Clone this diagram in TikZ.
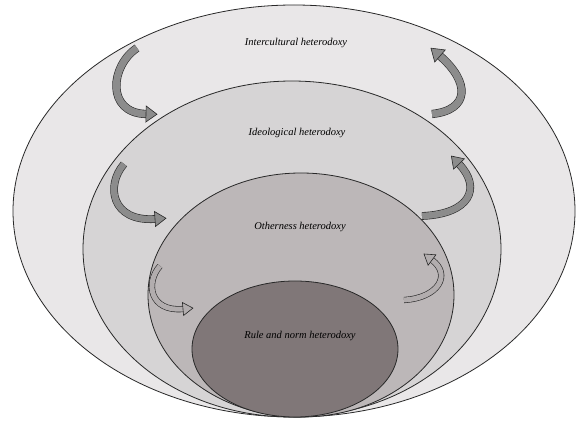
\documentclass[tikz,border=0pt]{standalone}
\usepackage{fontspec}
\setmainfont{Liberation Serif}
\usetikzlibrary{calc}
\definecolor{ringA}{RGB}{233,231,232}
\definecolor{ringB}{RGB}{214,212,213}
\definecolor{ringC}{RGB}{188,183,184}
\definecolor{ringD}{RGB}{128,119,120}
\definecolor{linec}{RGB}{40,40,40}
\definecolor{arrdark}{RGB}{140,140,140}
\definecolor{arrlight}{RGB}{178,173,174}
\tikzset{
  ring/.style={draw=linec, line width=0.8pt},
  lbl/.style={font=\fontsize{10.5}{12}\selectfont\itshape, inner sep=0pt}
}
\newcommand{\blockarr}[8]{%
  \draw[line width=0.6pt, draw=linec, double=#5, double distance=#6] (#1) .. controls (#2) and (#3) .. (#4);
  \draw[line width=0.6pt, draw=linec, fill=#5, line join=miter]
    ($(#4)!#7!90:(#3)$) -- ($(#4)!-#8!(#3)$) -- ($(#4)!#7!-90:(#3)$) -- cycle;
}
\begin{document}
\begin{tikzpicture}[x=1pt, y=-1pt]
\useasboundingbox (0,0) rectangle (582,422);
\fill[white] (0,0) rectangle (582,422);
\draw[ring, fill=ringA] (294,211) ellipse [x radius=281pt, y radius=206pt];
\draw[ring, fill=ringB] (292,249) ellipse [x radius=209pt, y radius=168pt];
\draw[ring, fill=ringC] (301,295) ellipse [x radius=153pt, y radius=122pt];
\draw[ring, fill=ringD] (295,349) ellipse [x radius=103pt, y radius=68pt];

\node[lbl] (t1) at (296,43) {Intercultural heterodoxy};
\node[lbl] (t2) at (297,133) {Ideological heterodoxy};
\node[lbl] (t3) at (300,227) {Otherness heterodoxy};
\node[lbl] (t4) at (300,336) {Rule and norm heterodoxy};

% arrows between rings
\blockarr{137,48}{110,66}{106,113}{146,114}{arrdark}{7pt}{8pt}{11pt}
\blockarr{432,114}{470,110}{470,82}{440,56}{arrdark}{7pt}{8pt}{12pt}
\blockarr{124,164}{105,186}{112,222}{155,219}{arrdark}{6.5pt}{7.5pt}{11pt}
\blockarr{422,216}{470,214}{482,188}{459,164}{arrdark}{6.5pt}{7.5pt}{11pt}
\blockarr{160,266}{145,283}{150,312}{183,309}{arrlight}{5pt}{6.5pt}{10pt}
\blockarr{404,300}{438,298}{452,275}{432,260}{arrlight}{5pt}{6.5pt}{10pt}
\end{tikzpicture}
\end{document}
